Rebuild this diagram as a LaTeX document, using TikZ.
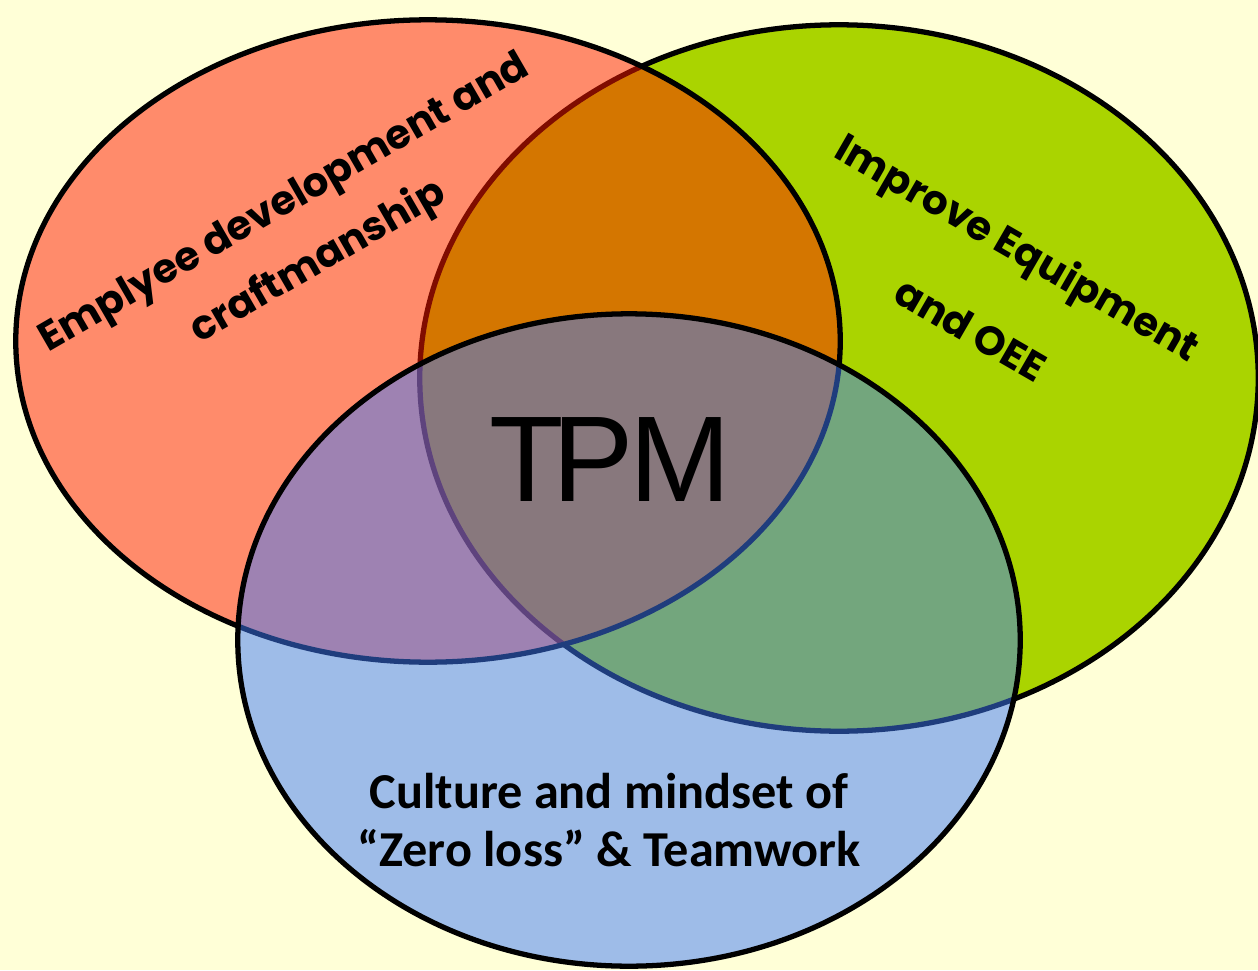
\documentclass[tikz,border=0pt]{standalone}
\usepackage{fontspec}
\setmainfont{Carlito}
\newfontfamily\popfont{Poppins}
\newfontfamily\arialfont{Liberation Sans}
\definecolor{bgc}{RGB}{255,255,215}
\definecolor{grnc}{RGB}{170,212,0}
\definecolor{redc}{RGB}{255,25,0}
\definecolor{bluc}{RGB}{62,122,250}
\tikzset{
  ring/.style={draw=black, line width=1.5pt},
  curvy/.style={align=center, inner sep=0pt, font=\popfont\bfseries\fontsize{11.5}{19.2}\selectfont},
  curvyb/.style={align=center, inner sep=0pt, font=\popfont\bfseries\fontsize{11.5}{27}\selectfont},
  plain/.style={align=center, inner sep=0pt, font=\bfseries\fontsize{14.3}{16.5}\selectfont},
  big/.style={inner sep=0pt, font=\arialfont\fontsize{34.7}{40}\selectfont}
}
\begin{document}
\begin{tikzpicture}[x=0.01cm,y=0.01cm]
\fill[bgc] (0,0) rectangle (1258,-970);
\useasboundingbox (0,0) rectangle (1258,-970);
\path[ring, fill=grnc] (839,-378) ellipse [x radius=4.19cm, y radius=3.53cm];
\path[ring, fill=redc, fill opacity=0.5] (428,-341) ellipse [x radius=4.12cm, y radius=3.21cm];
\path[ring, fill=bluc, fill opacity=0.5] (629,-640) ellipse [x radius=3.91cm, y radius=3.26cm];
\node[curvy, rotate=30] (emp) at (302,-234) {Emplyee development and\\craftmanship};
\node[curvyb, rotate=-30] (equip) at (995,-287) {Improve Equipment\\and OEE};
\node[plain] (culture) at (609,-820) {Culture and mindset of\\“Zero loss” \& Teamwork};
\node[big] (tpm) at (610,-460) {T\kern-3.4pt P\kern-1.2pt M};
\end{tikzpicture}
\end{document}
